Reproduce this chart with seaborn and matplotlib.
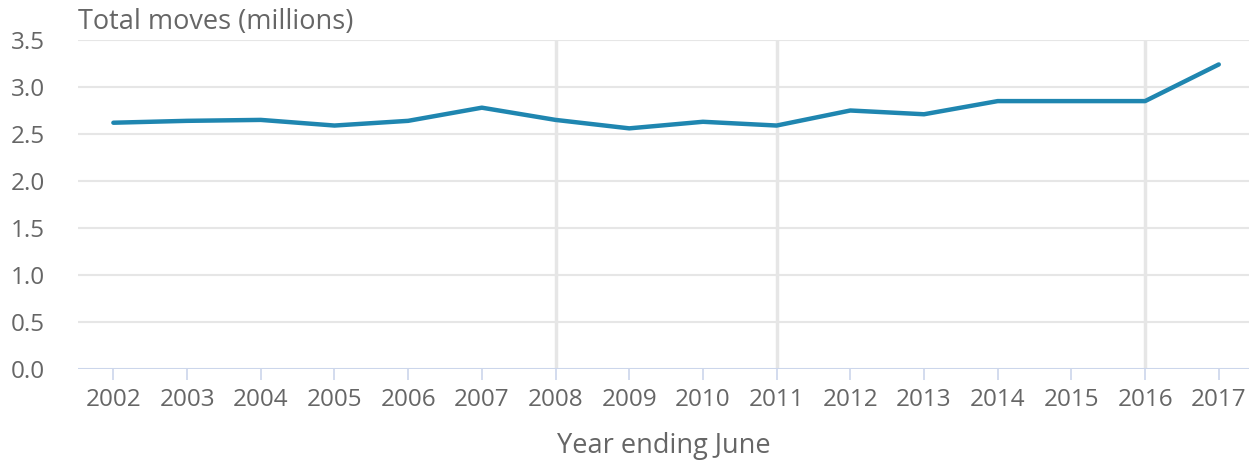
import matplotlib
matplotlib.use("Agg")
import matplotlib.pyplot as plt
import seaborn as sns
import pandas as pd

years = [2002, 2003, 2004, 2005, 2006, 2007, 2008, 2009, 2010, 2011, 2012, 2013, 2014, 2015, 2016, 2017]
total_moves = [2.62, 2.64, 2.65, 2.59, 2.64, 2.78, 2.65, 2.56, 2.63, 2.59, 2.75, 2.71, 2.85, 2.85, 2.85, 3.24]
highlight_years = [2008, 2011, 2016]
y_ticks = [0.0, 0.5, 1.0, 1.5, 2.0, 2.5, 3.0, 3.5]

sns.set_theme(style="white")
plt.rcParams['font.family'] = ['Open Sans', 'DejaVu Sans']

df = pd.DataFrame({"year": years, "moves": total_moves})

fig = plt.figure(figsize=(12.49, 4.66), dpi=100)
ax = fig.add_axes([78/1249, 1 - 369/466, 1 - 78/1249, (369 - 40)/466])

for yv in y_ticks[1:]:
    ax.axhline(yv, color="#e6e6e6", lw=1.5, zorder=0)
for hy in highlight_years:
    ax.axvline(hy, color="#e6e6e6", lw=2.5, zorder=0)
ax.axhline(0, color="#ccd6eb", lw=1.5, zorder=1)

sns.lineplot(data=df, x="year", y="moves", ax=ax, color="#1f86b0", lw=3.2, zorder=3,
             solid_capstyle="round")

ax.set_xlim(2001.52, 2017.41)
ax.set_ylim(0, 3.5)
ax.set_xticks(years)
ax.set_xticklabels([str(y) for y in years])
ax.set_yticks(y_ticks)
ax.set_yticklabels([f"{v:.1f}" for v in y_ticks])

for s in ax.spines.values():
    s.set_visible(False)
ax.tick_params(axis="x", length=8, width=1.2, color="#ccd6eb", pad=6,
               labelsize=17.5, labelcolor="#666666", bottom=True)
ax.tick_params(axis="y", length=0, pad=24, labelsize=17.5, labelcolor="#666666")
ax.set_xlabel("Year ending June", fontsize=19.5, color="#666666", labelpad=14)
ax.set_ylabel("")
fig.text(78/1249, 1 - 22/466, "Total moves (millions)", fontsize=19.5, color="#666666",
         ha="left", va="center")

fig.savefig("out.png", dpi=100)
